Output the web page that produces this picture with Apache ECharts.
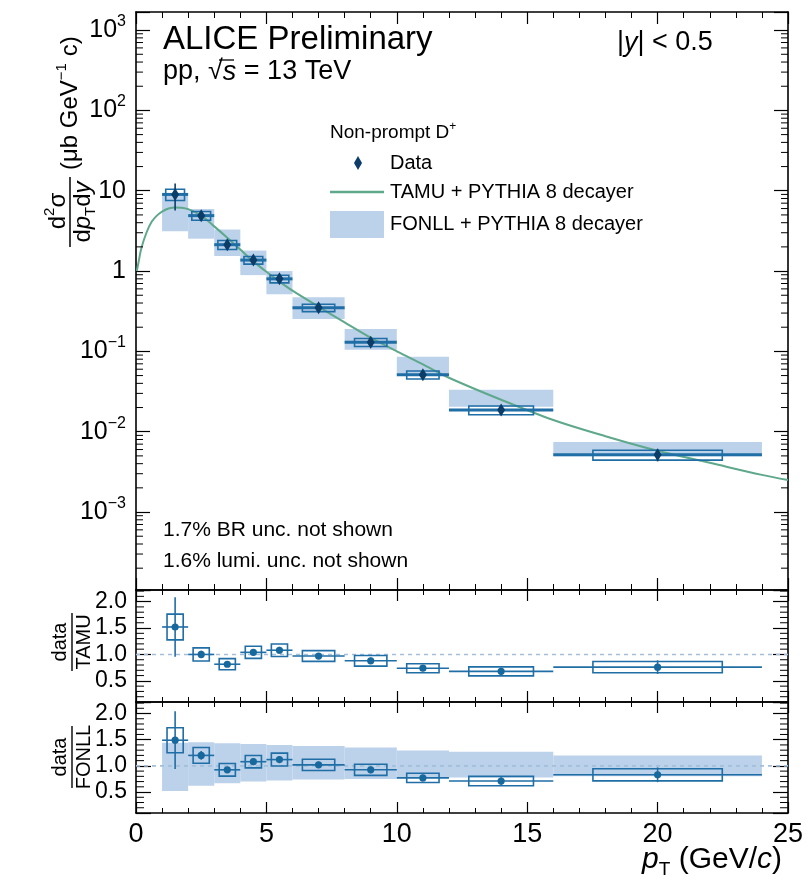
<!DOCTYPE html>
<html><head><meta charset="utf-8">
<script src="https://cdn.jsdelivr.net/npm/echarts@6/dist/echarts.min.js"></script>
<style>html,body{margin:0;padding:0;background:#fff}#c{width:810px;height:886px}</style>
</head><body><div id="c"></div>
<script>
// ---------------- data ----------------
const ptLow = [1, 2, 3, 4, 5, 6, 8, 10, 12, 16];
const ptHigh = [2, 3, 4, 5, 6, 8, 10, 12, 16, 24];
const ptCenter = [1.5, 2.5, 3.5, 4.5, 5.5, 7, 9, 11, 14, 20];
const crossSection = [9.0, 4.9, 2.13, 1.37, 0.80, 0.349, 0.130, 0.0511, 0.0186, 0.00515];
const statRel = [0.37, 0.07, 0.06, 0.06, 0.06, 0.06, 0.07, 0.08, 0.10, 0.17];
const systRel = [0.16, 0.125, 0.13, 0.11, 0.11, 0.105, 0.115, 0.115, 0.125, 0.14];
const fonllLow = [3.14, 2.53, 1.54, 0.89, 0.514, 0.253, 0.105, 0.051, 0.0204, 0.00496];
const fonllCentral = [6.04, 4.08, 2.30, 1.27, 0.714, 0.342, 0.1405, 0.0664, 0.0262, 0.0062];
const fonllHigh = [8.7, 5.92, 3.29, 1.80, 1.0, 0.472, 0.190, 0.086, 0.0333, 0.00744];
const tamuPt = [0.03, 0.1, 0.2, 0.4, 0.6, 0.8, 1.0, 1.25, 1.5, 1.75, 2.0, 2.5, 3.0, 3.5, 4.0, 4.5, 5.0, 5.5, 6.0, 7.0, 8.0, 9.0, 10, 11, 12, 14, 16, 18, 20, 22, 24, 25];
const tamuVal = [1.0, 1.3, 1.9, 3.0, 4.1, 4.9, 5.5, 6.0, 6.2, 6.15, 5.9, 4.9, 3.6, 2.6, 1.85, 1.32, 0.98, 0.74, 0.57, 0.36, 0.23, 0.148, 0.100, 0.069, 0.047, 0.025, 0.0140, 0.0088, 0.0058, 0.0041, 0.0029, 0.0025];
const ratioTamu = [1.52, 1.00, 0.815, 1.04, 1.08, 0.97, 0.88, 0.74, 0.68, 0.76];
const ratioFonll = [1.49, 1.20, 0.925, 1.08, 1.12, 1.02, 0.925, 0.77, 0.71, 0.83];
const logTickExp = [-3, -2, -1, 0, 1, 2, 3];
const logTickText = ['{b|10}{e|−3}', '{b|10}{e|−2}', '{b|10}{e|−1}', '{b|1}', '{b|10}', '{b|10}{e|2}', '{b|10}{e|3}'];
const xTickText = ['0', '5', '10', '15', '20', '25'];

// ---------------- style ----------------
const FONT = '"Liberation Sans", Arial, Helvetica, sans-serif';
const BLUE = '#1f6ea6';
const NAVY = '#0c3c68';
const BAND = '#bcd1ea';
const GREEN = '#5ea88b';
const Y_MIN = 1.07e-4, Y_MAX = 1680;
const R_MIN = 0.1, R_MAX = 2.22;

const chart = echarts.init(document.getElementById('c'), null, {renderer: 'canvas'});

const grids = [
  {left: 136, top: 12, width: 652, height: 578},
  {left: 136, top: 590, width: 652, height: 112},
  {left: 136, top: 702, width: 652, height: 111}
];

function xAx(gi, pos, showLabel, major, minor) {
  return {
    type: 'value', gridIndex: gi, position: pos, min: 0, max: 25, interval: 5,
    axisLine: {show: true, onZero: false, lineStyle: {color: '#000', width: 1.6}},
    axisTick: {show: true, inside: true, length: major, lineStyle: {color: '#000', width: 1.2}},
    minorTick: {show: true, splitNumber: 5, length: minor, lineStyle: {color: '#000', width: 1}},
    splitLine: {show: false}, minorSplitLine: {show: false},
    axisLabel: {show: showLabel, fontSize: 27, fontFamily: FONT, color: '#000', margin: 8,
      formatter: v => xTickText[Math.round(v / 5)] || ''}
  };
}
function logY(pos, showLabel) {
  return {
    type: 'log', logBase: 10, gridIndex: 0, position: pos, min: Y_MIN, max: Y_MAX,
    axisLine: {show: true, onZero: false, lineStyle: {color: '#000', width: 1.6}},
    axisTick: {show: true, inside: true, length: 14, lineStyle: {color: '#000', width: 1.2}},
    minorTick: {show: false}, splitLine: {show: false},
    axisLabel: {
      show: showLabel, margin: 10, color: '#000',
      formatter: v => {
        const e = Math.log10(v), r = Math.round(e);
        if (Math.abs(e - r) > 1e-6) return '';
        const k = logTickExp.indexOf(r);
        return k >= 0 ? logTickText[k] : '';
      },
      rich: {
        b: {fontSize: 25, fontFamily: FONT, color: '#000', lineHeight: 33},
        e: {fontSize: 16, fontFamily: FONT, color: '#000', verticalAlign: 'top'}
      }
    }
  };
}
function ratioY(gi, pos, showLabel) {
  return {
    type: 'value', gridIndex: gi, position: pos, min: R_MIN, max: R_MAX, splitNumber: 5,
    axisLine: {show: true, onZero: false, lineStyle: {color: '#000', width: 1.6}},
    axisTick: {show: true, inside: true, length: 15, lineStyle: {color: '#000', width: 1.2}},
    minorTick: {show: false}, splitLine: {show: false},
    axisLabel: {
      show: showLabel, margin: 9, fontSize: 23, fontFamily: FONT, color: '#000',
      formatter: v => (Math.abs(v * 2 - Math.round(v * 2)) < 1e-6 ? v.toFixed(1) : '')
    }
  };
}

// minor ticks (axis decoration)
const logMinor = [];
for (let e = -4; e <= 3; e++) for (let m = 2; m <= 9; m++) {
  const v = m * Math.pow(10, e);
  if (v > Y_MIN && v < Y_MAX) logMinor.push([0, v]);
}
const ratioMinor = [];
for (let k = 2; k <= 22; k++) if (k % 5 !== 0) ratioMinor.push([0, k / 10]);

function tickRenderer(len) {
  return function (params, api) {
    const v = api.value(1);
    const a = api.coord([0, v]), b = api.coord([25, v]);
    return {type: 'group', children: [
      {type: 'line', shape: {x1: a[0], y1: a[1], x2: a[0] + len, y2: a[1]}, style: {stroke: '#000', lineWidth: 1}},
      {type: 'line', shape: {x1: b[0] - len, y1: b[1], x2: b[0], y2: b[1]}, style: {stroke: '#000', lineWidth: 1}}
    ]};
  };
}
function bandRender(params, api) {
  const p1 = api.coord([api.value(0), api.value(3)]);
  const p2 = api.coord([api.value(1), api.value(2)]);
  return {type: 'rect', shape: {x: p1[0], y: p1[1], width: p2[0] - p1[0], height: p2[1] - p1[1]},
    style: {fill: BAND, stroke: null}};
}
function pointRender(main) {
  return function (params, api) {
    const lo = api.value(0), hi = api.value(1), c = api.value(2), v = api.value(3);
    const st = api.value(4), sy = api.value(5);
    const pL = api.coord([lo, v]), pH = api.coord([hi, v]);
    const w = hi - lo;
    const bw = (main && w <= 1) ? 0.36 : w * 0.31;
    const bTL = api.coord([c - bw, v * (1 + sy)]), bBR = api.coord([c + bw, v * (1 - sy)]);
    const sT = api.coord([c, v * (1 + st)]), sB = api.coord([c, v * (1 - st)]);
    const pc = api.coord([c, v]);
    const children = [
      {type: 'line', shape: {x1: pL[0], y1: pL[1], x2: pH[0], y2: pH[1]},
        style: {stroke: BLUE, lineWidth: main ? 3 : 1.6}},
      {type: 'rect', shape: {x: bTL[0], y: bTL[1], width: bBR[0] - bTL[0], height: bBR[1] - bTL[1]},
        style: {fill: null, stroke: BLUE, lineWidth: 1.6}},
      {type: 'line', shape: {x1: sT[0], y1: sT[1], x2: sB[0], y2: sB[1]},
        style: {stroke: main ? NAVY : BLUE, lineWidth: 1.6}}
    ];
    if (main) {
      children.push({type: 'polygon', shape: {points: [[pc[0], pc[1] - 6.5], [pc[0] + 4, pc[1]], [pc[0], pc[1] + 6.5], [pc[0] - 4, pc[1]]]},
        style: {fill: NAVY}});
    } else {
      children.push({type: 'circle', shape: {cx: pc[0], cy: pc[1], r: 3.6}, style: {fill: '#17689c'}});
    }
    return {type: 'group', children: children};
  };
}

const mainData = ptLow.map((l, i) => [l, ptHigh[i], ptCenter[i], crossSection[i], statRel[i], systRel[i]]);
const mainBand = ptLow.map((l, i) => [l, ptHigh[i], fonllLow[i], fonllHigh[i]]);
const r1Data = ptLow.map((l, i) => [l, ptHigh[i], ptCenter[i], ratioTamu[i], statRel[i], systRel[i]]);
const r2Data = ptLow.map((l, i) => [l, ptHigh[i], ptCenter[i], ratioFonll[i], statRel[i], systRel[i]]);
const r2Band = ptLow.map((l, i) => [l, ptHigh[i], fonllLow[i] / fonllCentral[i], fonllHigh[i] / fonllCentral[i]]);
const tamuLine = tamuPt.map((p, i) => [p, tamuVal[i]]);

function custom(xi, yi, data, render, z, encode) {
  return {type: 'custom', xAxisIndex: xi, yAxisIndex: yi, data: data, renderItem: render, z: z,
    silent: true, clip: false, encode: encode || {x: 2, y: 3}};
}
function dashedOne(xi, yi) {
  return {type: 'line', xAxisIndex: xi, yAxisIndex: yi, data: [[0, 1], [25, 1]], symbol: 'none', silent: true, z: 3,
    lineStyle: {color: '#a3bfd9', width: 1.6, type: [4, 4]}};
}

const T = (x, y, text, size, extra) => ({
  type: 'text', x: x, y: y, silent: true,
  style: Object.assign({text: text, fontSize: size, fontFamily: FONT, fill: '#000',
    align: 'left', verticalAlign: 'middle', textAlign: 'left', textVerticalAlign: 'middle'}, extra || {})
});
function rich(size) {
  return {
    n: {fontSize: size, fontFamily: FONT, fill: '#000', color: '#000', lineHeight: Math.round(size * 1.3)},
    i: {fontSize: size, fontFamily: FONT, fontStyle: 'italic', fill: '#000', color: '#000', lineHeight: Math.round(size * 1.3)},
    sup: {fontSize: Math.round(size * 0.62), fontFamily: FONT, fill: '#000', color: '#000', verticalAlign: 'top'},
    sub: {fontSize: Math.round(size * 0.62), fontFamily: FONT, fill: '#000', color: '#000', verticalAlign: 'bottom'}
  };
}

const option = {
  animation: false,
  backgroundColor: '#fff',
  grid: grids,
  xAxis: [xAx(0, 'bottom', false, 12, 6), xAx(0, 'top', false, 12, 6),
          xAx(1, 'bottom', false, 11, 5), xAx(1, 'top', false, 11, 5),
          xAx(2, 'bottom', true, 11, 5), xAx(2, 'top', false, 11, 5)],
  yAxis: [logY('left', true), logY('right', false),
          ratioY(1, 'left', true), ratioY(1, 'right', false),
          ratioY(2, 'left', true), ratioY(2, 'right', false)],
  series: [
    custom(0, 0, mainBand, bandRender, 1, {x: 0, y: 2}),
    {type: 'line', xAxisIndex: 0, yAxisIndex: 0, data: tamuLine, smooth: 0.35, symbol: 'none', silent: true, z: 2,
      lineStyle: {color: GREEN, width: 2}},
    custom(0, 0, mainData, pointRender(true), 4),
    custom(0, 0, logMinor, tickRenderer(7), 5, {x: 0, y: 1}),
    dashedOne(2, 2),
    custom(2, 2, r1Data, pointRender(false), 4),
    custom(2, 2, ratioMinor, tickRenderer(8), 5, {x: 0, y: 1}),
    custom(4, 4, r2Band, bandRender, 1, {x: 0, y: 2}),
    dashedOne(4, 4),
    custom(4, 4, r2Data, pointRender(false), 4),
    custom(4, 4, ratioMinor, tickRenderer(8), 5, {x: 0, y: 1})
  ],
  graphic: [
    T(163, 40, 'ALICE Preliminary', 33),
    T(163, 72, '{n|pp, √}{i|s}{n| = 13 TeV}', 27, {rich: rich(27)}),
    {type: 'line', silent: true, shape: {x1: 219, y1: 60, x2: 234, y2: 60}, style: {stroke: '#000', lineWidth: 1.3}},
    T(617, 43, '{n||}{i|y}{n|| < 0.5}', 27, {rich: rich(27)}),
    // legend
    T(330, 133, '{n|Non-prompt D}{sup|+}', 19, {rich: rich(19)}),
    {type: 'polygon', silent: true, shape: {points: [[358, 156], [362, 163], [358, 170], [354, 163]]}, style: {fill: NAVY}},
    T(390, 163, 'Data', 20),
    {type: 'line', silent: true, shape: {x1: 330, y1: 192, x2: 384, y2: 192}, style: {stroke: GREEN, lineWidth: 2.5}},
    T(390, 192, 'TAMU + PYTHIA 8 decayer', 20),
    {type: 'rect', silent: true, shape: {x: 330, y: 211, width: 54, height: 27}, style: {fill: BAND}},
    T(390, 224, 'FONLL + PYTHIA 8 decayer', 20),
    // notes
    T(163, 530, '1.7% BR unc. not shown', 21),
    T(163, 561, '1.6% lumi. unc. not shown', 21),
    // x title
    T(782, 860, '{i|p}{sub|T}{n| (GeV/}{i|c}{n|)}', 30, {rich: rich(30), align: 'right', textAlign: 'right'}),
    // y title main
    {type: 'group', x: 70, y: 247, rotation: Math.PI / 2, silent: true, children: [
      T(36, -12, '{n|d}{sup|2}{n|σ}', 24, {rich: rich(24), align: 'center', textAlign: 'center'}),
      {type: 'line', shape: {x1: 0, y1: 0, x2: 70, y2: 0}, style: {stroke: '#000', lineWidth: 1.5}},
      T(35, 13, '{n|d}{i|p}{sub|T}{n|d}{i|y}', 24, {rich: rich(24), align: 'center', textAlign: 'center'}),
      T(77, 0, '{n|(μb GeV}{sup|−1}{n| c)}', 24, {rich: rich(24)})
    ]},
    // ratio titles
    {type: 'group', x: 72, y: 642, rotation: Math.PI / 2, silent: true, children: [
      T(0, -12, 'data', 20, {align: 'center', textAlign: 'center'}),
      {type: 'line', shape: {x1: -29, y1: 0, x2: 29, y2: 0}, style: {stroke: '#000', lineWidth: 1.4}},
      T(0, 12, 'TAMU', 20, {align: 'center', textAlign: 'center'})
    ]},
    {type: 'group', x: 72, y: 757, rotation: Math.PI / 2, silent: true, children: [
      T(0, -12, 'data', 20, {align: 'center', textAlign: 'center'}),
      {type: 'line', shape: {x1: -31, y1: 0, x2: 31, y2: 0}, style: {stroke: '#000', lineWidth: 1.4}},
      T(0, 12, 'FONLL', 20, {align: 'center', textAlign: 'center'})
    ]}
  ]
};
chart.setOption(option);
</script>
</body></html>
